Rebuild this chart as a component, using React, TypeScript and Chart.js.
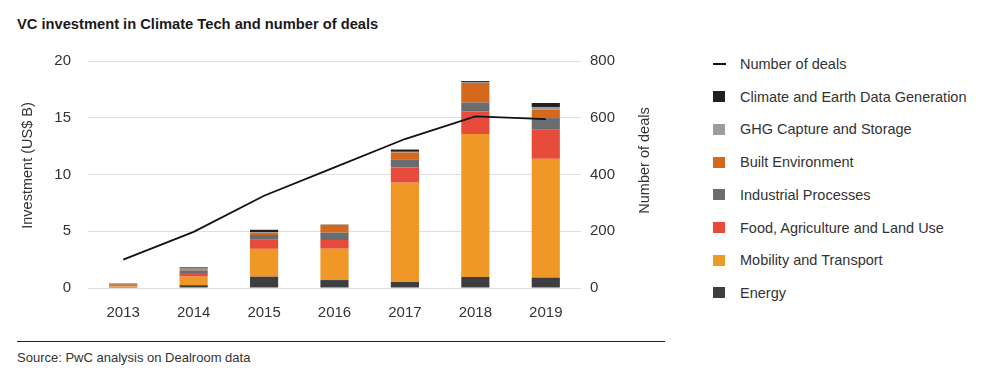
import React, { useEffect, useRef } from "react";
import { Chart, registerables } from "chart.js";

Chart.register(...registerables);

const years = ["2013", "2014", "2015", "2016", "2017", "2018", "2019"];
const energy = [0.03, 0.25, 1.0, 0.7, 0.53, 0.97, 0.92];
const mobility = [0.12, 0.75, 2.45, 2.76, 8.75, 12.6, 10.46];
const food = [0.05, 0.32, 0.8, 0.77, 1.33, 1.97, 2.56];
const industrial = [0.1, 0.22, 0.42, 0.65, 0.68, 0.8, 1.03];
const builtEnv = [0.1, 0.12, 0.18, 0.68, 0.65, 1.72, 0.74];
const ghg = [0.04, 0.06, 0.08, 0.03, 0.06, 0.05, 0.24];
const climateData = [0.0, 0.1, 0.2, 0.02, 0.2, 0.12, 0.35];
const deals = [100, 198, 325, 425, 525, 605, 595];

const leftTicks = [0, 5, 10, 15, 20];
const rightTicks = [0, 200, 400, 600, 800];

const FONT = "'Liberation Sans', Arial, Helvetica, sans-serif";

const barSeries = [
  { label: "Energy", data: energy, color: "#3e3e40" },
  { label: "Mobility and Transport", data: mobility, color: "#ef9828" },
  { label: "Food, Agriculture and Land Use", data: food, color: "#e64b3b" },
  { label: "Industrial Processes", data: industrial, color: "#6b6c6f" },
  { label: "Built Environment", data: builtEnv, color: "#d4691e" },
  { label: "GHG Capture and Storage", data: ghg, color: "#9c9c9c" },
  { label: "Climate and Earth Data Generation", data: climateData, color: "#231f20" },
];

const axisTitles = {
  id: "axisTitles",
  afterDraw(chart: any) {
    const { ctx, chartArea } = chart;
    const cy = (chartArea.top + chartArea.bottom) / 2 - 9;
    ctx.save();
    ctx.fillStyle = "#333";
    ctx.font = `14.5px ${FONT}`;
    ctx.textAlign = "center";
    ctx.textBaseline = "middle";
    ctx.translate(28, cy);
    ctx.rotate(-Math.PI / 2);
    ctx.fillText("Investment (US$ B)", 0, 0);
    ctx.restore();
    ctx.save();
    ctx.fillStyle = "#333";
    ctx.font = `14.5px ${FONT}`;
    ctx.textAlign = "center";
    ctx.textBaseline = "middle";
    ctx.translate(645, cy - 5);
    ctx.rotate(-Math.PI / 2);
    ctx.fillText("Number of deals", 0, 0);
    ctx.restore();
  },
};

export default function App() {
  const ref = useRef<HTMLCanvasElement | null>(null);

  useEffect(() => {
    if (!ref.current) return;
    const datasets: any[] = [
      {
        type: "line",
        label: "Number of deals",
        data: deals,
        yAxisID: "y1",
        borderColor: "#111",
        borderWidth: 1.8,
        pointRadius: 0,
        tension: 0,
        fill: false,
        order: 0,
      },
      ...barSeries.map((s) => ({
        type: "bar",
        label: s.label,
        data: s.data,
        backgroundColor: s.color,
        borderWidth: 0,
        yAxisID: "y",
        stack: "inv",
        barPercentage: 0.4,
        categoryPercentage: 1.0,
        order: 1,
      })),
    ];
    const tickFont = { family: FONT, size: 15 };
    const chart = new Chart(ref.current, {
      type: "bar",
      data: { labels: years, datasets },
      plugins: [axisTitles],
      options: {
        responsive: false,
        animation: false,
        devicePixelRatio: 1,
        layout: { padding: { top: 61, bottom: 0, left: 0, right: 0 } },
        plugins: { legend: { display: false }, tooltip: { enabled: false } },
        scales: {
          x: {
            stacked: true,
            grid: { display: false, drawTicks: false },
            border: { display: false },
            ticks: { padding: 16, color: "#333", font: tickFont },
            afterFit: (s: any) => {
              s.height = 42;
            },
          },
          y: {
            stacked: true,
            position: "left",
            min: 0,
            max: 20,
            afterBuildTicks: (s: any) => {
              s.ticks = leftTicks.map((v) => ({ value: v }));
            },
            grid: { color: "#dedede", lineWidth: 1, drawTicks: false },
            border: { display: false },
            ticks: { padding: 17, color: "#333", font: tickFont },
            afterFit: (s: any) => {
              s.width = 88;
            },
          },
          y1: {
            stacked: false,
            position: "right",
            min: 0,
            max: 800,
            afterBuildTicks: (s: any) => {
              s.ticks = rightTicks.map((v) => ({ value: v }));
            },
            grid: { display: false, drawTicks: false },
            border: { display: false },
            ticks: { padding: 9, color: "#333", font: tickFont },
            afterFit: (s: any) => {
              s.width = 119;
            },
          },
        },
      } as any,
    });
    return () => chart.destroy();
  }, []);

  const legendItems = [
    { label: "Number of deals", color: "#111", line: true },
    ...barSeries
      .slice()
      .reverse()
      .map((s) => ({ label: s.label, color: s.color, line: false })),
  ];

  return (
    <div
      style={{
        position: "fixed",
        left: 0,
        top: 0,
        width: 1000,
        height: 379,
        background: "#fff",
        fontFamily: FONT,
        color: "#222",
      }}
    >
      <div
        style={{
          position: "absolute",
          left: 17,
          top: 15,
          fontSize: 14.7,
          lineHeight: "18px",
          fontWeight: "bold",
          color: "#1a1a1a",
        }}
      >
        VC investment in Climate Tech and number of deals
      </div>
      <canvas
        ref={ref}
        width={700}
        height={330}
        style={{ position: "absolute", left: 0, top: 0, width: 700, height: 330 }}
      />
      {legendItems.map((it, i) => (
        <div
          key={it.label}
          style={{
            position: "absolute",
            left: 713,
            top: 64 + i * 32.7 - 9,
            height: 18,
            display: "flex",
            alignItems: "center",
            fontSize: 14.5,
            color: "#333",
            whiteSpace: "nowrap",
          }}
        >
          <div style={{ width: 13, height: 18, display: "flex", alignItems: "center" }}>
            {it.line ? (
              <div style={{ width: 13, height: 2, background: it.color }} />
            ) : (
              <div style={{ width: 12, height: 11, background: it.color }} />
            )}
          </div>
          <span style={{ marginLeft: 14 }}>{it.label}</span>
        </div>
      ))}
      <div
        style={{
          position: "absolute",
          left: 17,
          top: 341,
          width: 648,
          height: 1,
          background: "#222",
        }}
      />
      <div
        style={{
          position: "absolute",
          left: 17,
          top: 350,
          fontSize: 13,
          lineHeight: "16px",
          color: "#333",
        }}
      >
        Source: PwC analysis on Dealroom data
      </div>
    </div>
  );
}
